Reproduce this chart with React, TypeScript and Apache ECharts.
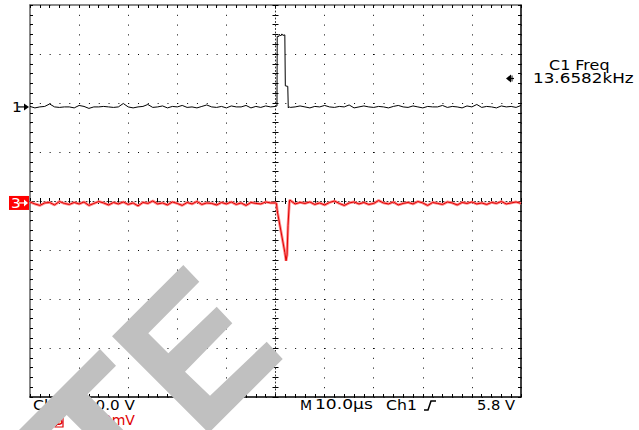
import React, { useEffect, useRef } from "react";
import * as echarts from "echarts";

// Horizontal: time in µs (10 µs/div, trigger at centre). Vertical: graticule divisions.
const timeMin = -50;
const timeMax = 50;
const timeStep = 10;
const divMin = -4;
const divMax = 4;

// Channel 1 (black) — samples every 1 µs before the pulse (t = -50 .. 0)
const ch1Pre = [
  1.93, 1.9, 1.92, 1.93, 1.98, 1.92, 1.91, 1.92, 1.92, 1.9,
  1.95, 1.93, 1.89, 1.92, 1.92, 1.93, 1.92, 1.91, 1.92, 1.99,
  1.92, 1.9, 1.92, 1.93, 1.97, 1.91, 1.92, 1.94, 1.9, 1.93,
  1.92, 1.95, 1.91, 1.92, 1.9, 1.93, 1.96, 1.92, 1.91, 1.93,
  1.9, 1.94, 1.92, 1.92, 1.95, 1.9, 1.93, 1.91, 1.94, 1.92,
  1.93,
];
// Channel 1 pulse, [t µs, div]
const ch1Pulse: [number, number][] = [
  [0.3, 1.94], [0.35, 3.36], [0.7, 3.36], [0.8, 3.4], [1.1, 3.37], [1.3, 3.41],
  [1.5, 3.38], [1.9, 3.39], [2.0, 2.35], [2.5, 2.34], [2.6, 1.9], [2.8, 1.92],
];
// Channel 1 after the pulse (t = 3 .. 50)
const ch1Post = [
  1.91, 1.92, 1.94, 1.92, 1.9, 1.93, 1.92, 1.95, 1.92, 1.91,
  1.93, 1.92, 1.96, 1.9, 1.92, 1.94, 1.92, 1.91, 1.93, 1.92,
  1.9, 1.93, 1.95, 1.92, 1.91, 1.94, 1.92, 1.9, 1.93, 1.92,
  1.92, 1.95, 1.91, 1.93, 1.92, 1.9, 1.94, 1.92, 1.97, 1.91,
  1.93, 1.92, 1.9, 1.94, 1.92, 1.93, 1.91, 1.95,
];

// Channel 3 (red) before the dip (t = -50 .. 0)
const ch3Pre = [
  -0.02, -0.06, -0.09, -0.04, -0.03, -0.08, -0.01, -0.05, -0.07, -0.03,
  -0.06, -0.02, -0.09, -0.05, -0.01, -0.04, -0.08, -0.03, -0.06, -0.02,
  -0.07, -0.04, -0.1, -0.03, -0.05, 0.0, -0.06, -0.04, -0.08, -0.02,
  -0.05, -0.09, -0.03, -0.06, -0.01, -0.07, -0.04, -0.05, -0.08, -0.03,
  -0.06, -0.02, -0.07, -0.04, -0.09, -0.03, -0.05, -0.06, -0.02, -0.04,
  -0.04,
];
const ch3Dip: [number, number][] = [
  [0.2, -0.05], [0.35, -0.2], [1.9, -1.05], [2.15, -1.22], [2.35, -1.1],
  [2.55, -0.5], [2.8, -0.06], [2.9, 0.02],
];
// Channel 3 after the dip (t = 3 .. 50)
const ch3Post = [
  0.02, -0.06, -0.03, -0.05, -0.02, -0.07, -0.04, -0.08, -0.03, 0.0,
  -0.05, -0.09, -0.04, -0.02, -0.06, -0.03, -0.07, -0.05, 0.01, -0.04,
  -0.06, -0.02, -0.08, -0.05, -0.03, -0.06, -0.01, -0.04, -0.09, -0.03,
  -0.05, -0.07, -0.02, -0.04, -0.08, -0.03, -0.05, -0.02, -0.06, -0.04,
  -0.07, -0.03, -0.05, -0.01, -0.06, -0.04, -0.02, -0.05,
];
const postStart = 3;

// Reference markers (div)
const ch1Ground = 1.92;
const ch3Ground = -0.04;
const trigLevel = 2.5;

// Readout texts
const measTitle = "C1 Freq";
const measValue = "13.6582kHz";
const ch1Scale = ["Ch1", "10.0 V"];
const ch3Scale = ["Ch3", "200mV"];
const timeBase = ["M", "10.0µs", "Ch1", "5.8 V"];

function buildTrace(pre: number[], mid: [number, number][], post: number[]) {
  const out: [number, number][] = [];
  pre.forEach((v, i) => out.push([timeMin + i, v]));
  mid.forEach((p) => out.push(p));
  post.forEach((v, i) => out.push([postStart + i, v]));
  return out;
}

const FONT = "14px 'DejaVu Sans', Verdana, sans-serif";

function txt(text: string, x: number, y: number, fill: string, sx: number, align = "left") {
  return {
    type: "text",
    x,
    y,
    scaleX: sx,
    z: 50,
    style: {
      text,
      fill,
      font: FONT,
      align,
      verticalAlign: "middle",
      textAlign: align,
      textVerticalAlign: "middle",
    },
  };
}

export default function App() {
  const ref = useRef<HTMLDivElement>(null);

  useEffect(() => {
    if (!ref.current) return;
    const chart = echarts.init(ref.current, undefined, { renderer: "svg" });

    const baseX: any = {
      type: "value",
      min: timeMin,
      max: timeMax,
      interval: timeStep,
      axisLabel: { show: false },
      splitLine: { show: false },
    };
    const baseY: any = {
      type: "value",
      min: divMin,
      max: divMax,
      interval: 1,
      axisLabel: { show: false },
      splitLine: { show: false },
    };
    const tick = (inside: boolean, color: string) => ({
      axisTick: { show: true, inside, length: 3, lineStyle: { color, width: 1 } },
      minorTick: { show: true, splitNumber: 5, length: 3, lineStyle: { color, width: 1 } },
    });

    const ch1Data = buildTrace(ch1Pre, ch1Pulse, ch1Post);
    const ch3Data = buildTrace(ch3Pre, ch3Dip, ch3Post);

    const centreLine = { color: "#333", width: 1, type: [1, 2.5] };

    const option: any = {
      animation: false,
      backgroundColor: "#ffffff",
      textStyle: { fontFamily: "'DejaVu Sans', sans-serif" },
      grid: { left: 30, top: 5, width: 491, height: 392, containLabel: false, outerBoundsMode: "none" },
      xAxis: [
        {
          ...baseX,
          position: "bottom",
          axisLine: { show: true, onZero: false, lineStyle: { color: "#000", width: 1.5 } },
          ...tick(true, "#000"),
          splitLine: { show: true, lineStyle: { color: "#000", width: 1, type: [1, 8.8] } },
        },
        {
          ...baseX,
          position: "top",
          axisLine: { show: true, onZero: false, lineStyle: { color: "#606060", width: 1.5 } },
          ...tick(true, "#000"),
        },
        {
          ...baseX,
          position: "bottom",
          axisLine: { show: true, onZero: true, onZeroAxisIndex: 0, lineStyle: centreLine },
          ...tick(true, "#000"),
        },
        {
          ...baseX,
          position: "bottom",
          axisLine: { show: false, onZero: true, onZeroAxisIndex: 0 },
          ...tick(false, "#000"),
        },
      ],
      yAxis: [
        {
          ...baseY,
          position: "left",
          axisLine: { show: true, onZero: false, lineStyle: { color: "#606060", width: 1.5 } },
          ...tick(true, "#000"),
          splitLine: { show: true, lineStyle: { color: "#000", width: 1, type: [1, 8.82] } },
        },
        {
          ...baseY,
          position: "right",
          axisLine: { show: true, onZero: false, lineStyle: { color: "#000", width: 1.5 } },
          ...tick(true, "#000"),
        },
        {
          ...baseY,
          position: "left",
          axisLine: { show: true, onZero: true, onZeroAxisIndex: 0, lineStyle: centreLine },
          ...tick(true, "#000"),
        },
        {
          ...baseY,
          position: "left",
          axisLine: { show: false, onZero: true, onZeroAxisIndex: 0 },
          ...tick(false, "#000"),
        },
      ],
      series: [
        {
          name: "Ch1",
          type: "line",
          xAxisIndex: 0,
          yAxisIndex: 0,
          data: ch1Data,
          symbol: "none",
          silent: true,
          lineStyle: { color: "#000", width: 1 },
          z: 6,
        },
        {
          name: "Ch3 persistence",
          type: "line",
          xAxisIndex: 0,
          yAxisIndex: 0,
          data: ch3Data,
          symbol: "none",
          silent: true,
          lineStyle: { color: "#ff8a8a", width: 2.8 },
          z: 4,
        },
        {
          name: "Ch3",
          type: "line",
          xAxisIndex: 0,
          yAxisIndex: 0,
          data: ch3Data,
          symbol: "none",
          silent: true,
          lineStyle: { color: "#e00000", width: 1 },
          z: 5,
        },
      ],
    };
    chart.setOption(option);

    const toPx = (t: number, v: number) =>
      chart.convertToPixel({ seriesIndex: 0 }, [t, v]) as number[];
    const [lx, y1] = toPx(timeMin, ch1Ground);
    const [, y3] = toPx(timeMin, ch3Ground);
    const [rx, yT] = toPx(timeMax, trigLevel);

    const wm = "#c0c0c0";
    const graphic: any[] = [
      // Ch1 ground marker
      txt("1", lx - 18, y1, "#000", 1.1),
      { type: "line", z: 50, shape: { x1: lx - 12, y1: y1, x2: lx - 5, y2: y1 }, style: { stroke: "#000", lineWidth: 1.2 } },
      { type: "polygon", z: 50, shape: { points: [[lx - 6, y1 - 3.5], [lx - 1, y1], [lx - 6, y1 + 3.5]] }, style: { fill: "#000" } },
      // Ch3 ground marker
      { type: "rect", z: 49, shape: { x: lx - 21, y: y3 - 7, width: 20, height: 14 }, style: { fill: "#ff0000" } },
      txt("3", lx - 19, y3, "#fff", 1.1),
      { type: "line", z: 50, shape: { x1: lx - 11, y1: y3, x2: lx - 5, y2: y3 }, style: { stroke: "#fff", lineWidth: 1.2 } },
      { type: "polygon", z: 50, shape: { points: [[lx - 6, y3 - 3.5], [lx - 2, y3], [lx - 6, y3 + 3.5]] }, style: { fill: "#fff" } },
      // Trigger level marker
      { type: "polygon", z: 50, shape: { points: [[rx - 15, yT], [rx - 10, yT - 4], [rx - 10, yT + 4]] }, style: { fill: "#000" } },
      { type: "line", z: 50, shape: { x1: rx - 11, y1: yT, x2: rx - 7, y2: yT }, style: { stroke: "#000", lineWidth: 1.2 } },
      { type: "line", z: 50, shape: { x1: rx - 9, y1: yT - 3, x2: rx - 9, y2: yT + 3 }, style: { stroke: "#000", lineWidth: 1 } },
      // Measurement readout
      txt(measTitle, 549, 65, "#000", 1.14),
      txt(measValue, 533, 78, "#000", 1.2),
      // Bottom readouts
      txt(ch1Scale[0], 33, 405, "#000", 1.12),
      txt(ch1Scale[1], 86, 405, "#000", 1.08),
      txt(ch3Scale[0], 33, 420, "#e00000", 1.12),
      { type: "rect", z: 49, shape: { x: 55, y: 417, width: 8, height: 10 }, style: { fill: "#fff", stroke: "#e00000", lineWidth: 1.2 } },
      { type: "line", z: 49, shape: { x1: 56, y1: 426, x2: 62, y2: 418 }, style: { stroke: "#e00000", lineWidth: 1.2 } },
      txt(ch3Scale[1], 85, 420, "#e00000", 1.0),
      txt(timeBase[0], 300, 405, "#000", 1.0),
      txt(timeBase[1], 315, 405, "#000", 1.22),
      txt(timeBase[2], 386, 405, "#000", 1.12),
      { type: "polyline", z: 50, shape: { points: [[424, 410], [428, 410], [431, 401], [436, 401]] }, style: { stroke: "#000", lineWidth: 1.5, fill: null } },
      txt(timeBase[3], 477, 405, "#000", 1.05),
      // Watermark shapes
      {
        type: "polygon",
        z: 100,
        shape: { points: [[100, 349], [116, 365.7], [87.5, 394.2], [138.3, 445], [96.7, 445], [66.7, 415], [36.7, 445], [4, 445]] },
        style: { fill: wm },
      },
      {
        type: "polygon",
        z: 100,
        shape: {
          points: [
            [112, 336.3], [183.3, 265], [199.3, 281.7], [148.3, 333.3], [168.3, 353.3],
            [216.7, 306.7], [232.3, 323.3], [185, 371.7], [210, 395.7], [266.7, 341.7],
            [282.7, 359], [208.7, 433],
          ],
        },
        style: { fill: wm },
      },
    ];
    chart.setOption({ graphic });

    return () => chart.dispose();
  }, []);

  return (
    <div
      ref={ref}
      style={{ position: "absolute", left: 0, top: 0, width: 639, height: 430, background: "#fff" }}
    />
  );
}
